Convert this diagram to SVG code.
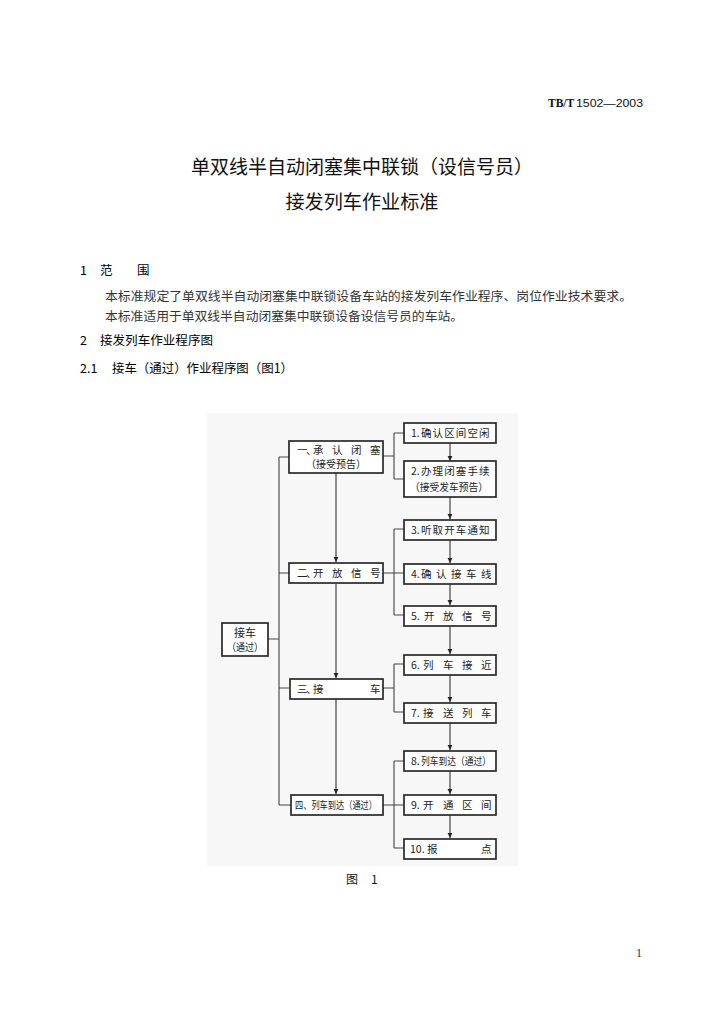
<svg xmlns="http://www.w3.org/2000/svg" width="724" height="1024" viewBox="0 0 724 1024">
<style>
.cjk{font-family:"Noto Sans CJK SC","Noto Sans CJK JP",sans-serif;}
.title{font-size:19px;fill:#111;}
.body{font-size:12.5px;fill:#333;}
.head{font-size:12.5px;fill:#000;}
.bt{font-size:10.5px;fill:#222;}
.box{fill:#ffffff;stroke:#2a2a2a;stroke-width:1.7;}
.ln{fill:none;stroke:#444;stroke-width:1.1;}
.ar{fill:none;stroke:#333;stroke-width:1.1;marker-end:url(#ah);}
</style>
<defs>
<marker id="ah" markerWidth="6" markerHeight="6" refX="5" refY="3" orient="auto" markerUnits="userSpaceOnUse">
<path d="M0,0.6 L5,3 L0,5.4 Z" fill="#222"/>
</marker>
</defs>
<rect width="724" height="1024" fill="#ffffff"/>

<g id="header">
<text x="548" y="107" font-family="Liberation Serif,serif" font-weight="bold" font-size="11.5" fill="#111">TB/T</text>
<text x="576" y="107" font-family="Liberation Sans,sans-serif" font-size="11" fill="#111" textLength="67" lengthAdjust="spacingAndGlyphs">1502—2003</text>
</g>

<g id="title" class="cjk title">
<text x="362" y="174" text-anchor="middle" textLength="342" lengthAdjust="spacingAndGlyphs">单双线半自动闭塞集中联锁（设信号员）</text>
<text x="362" y="209" text-anchor="middle" textLength="153" lengthAdjust="spacingAndGlyphs">接发列车作业标准</text>
</g>

<g id="text" class="cjk">
<text x="80" y="275" class="head">1</text>
<text x="100" y="275" class="head">范</text>
<text x="137" y="275" class="head">围</text>
<text x="105" y="301" class="body" textLength="527" lengthAdjust="spacingAndGlyphs">本标准规定了单双线半自动闭塞集中联锁设备车站的接发列车作业程序、岗位作业技术要求。</text>
<text x="105" y="321" class="body" textLength="358" lengthAdjust="spacingAndGlyphs">本标准适用于单双线半自动闭塞集中联锁设备设信号员的车站。</text>
<text x="80" y="345" class="head">2</text>
<text x="100" y="345" class="head" textLength="113" lengthAdjust="spacingAndGlyphs">接发列车作业程序图</text>
<text x="80" y="373" class="head">2.1</text>
<text x="112" y="373" class="head" textLength="181" lengthAdjust="spacingAndGlyphs">接车（通过）作业程序图（图1）</text>
</g>

<rect x="207" y="413" width="311" height="453" fill="#f7f7f7"/>

<g id="connectors">
<path class="ln" d="M268,639 H279 M279,457 V805 M279,457 H289 M279,573 H289 M279,688 H289 M279,805 H291"/>
<path class="ln" d="M383,456 H394 M394,433 V479 M394,433 H404 M394,479 H404"/>
<path class="ln" d="M383,573 H404 M394,529 V615 M394,529 H404 M394,615 H404"/>
<path class="ln" d="M383,688 H394 M394,664 V712 M394,664 H404 M394,712 H404"/>
<path class="ln" d="M383,805 H404 M394,761 V848 M394,761 H404 M394,848 H404"/>
<path class="ar" d="M336,473 V562"/>
<path class="ar" d="M336,584 V678"/>
<path class="ar" d="M336,699 V794"/>
<path class="ar" d="M450,443 V461"/>
<path class="ar" d="M450,497 V519"/>
<path class="ar" d="M450,540 V563"/>
<path class="ar" d="M450,584 V605"/>
<path class="ar" d="M450,626 V654"/>
<path class="ar" d="M450,675 V702"/>
<path class="ar" d="M450,723 V750"/>
<path class="ar" d="M450,771 V794"/>
<path class="ar" d="M450,815 V838"/>
</g>

<g id="root" class="cjk bt">
<rect class="box" x="222" y="623" width="46" height="33"/>
<text x="245" y="637" text-anchor="middle" font-size="11">接车</text>
<text x="227" y="651" textLength="36" lengthAdjust="spacingAndGlyphs">（通过）</text>
</g>

<g id="s1" class="cjk bt">
<rect class="box" x="289" y="441" width="94" height="32"/>
<text x="297 306 313 332 351 370" y="454">一、承认闭塞</text>
<text x="306" y="468" textLength="60" lengthAdjust="spacingAndGlyphs">（接受预告）</text>
</g>
<g id="s2" class="cjk bt">
<rect class="box" x="289" y="563" width="94" height="20"/>
<text x="297 306 313 332 351 370" y="577">二、开放信号</text>
</g>
<g id="s3" class="cjk bt">
<rect class="box" x="290" y="679" width="93" height="20"/>
<text x="297 306 313" y="693">三、接</text>
<text x="370" y="693">车</text>
</g>
<g id="s4" class="cjk bt">
<rect class="box" x="291" y="795" width="92" height="20"/>
<text x="295" y="809" textLength="82" lengthAdjust="spacingAndGlyphs">四、列车到达（通过）</text>
</g>

<g id="n1" class="cjk bt">
<rect class="box" x="404" y="423" width="92" height="20"/>
<text x="411" y="437">1.<tspan x="421 432.6 444.2 455.8 467.4 479">确认区间空闲</tspan></text>
</g>
<g id="n2" class="cjk bt">
<rect class="box" x="404" y="461" width="92" height="36"/>
<text x="411" y="475">2.<tspan x="421 432.6 444.2 455.8 467.4 479">办理闭塞手续</tspan></text>
<text x="410" y="491" textLength="78" lengthAdjust="spacingAndGlyphs">（接受发车预告）</text>
</g>
<g id="n3" class="cjk bt">
<rect class="box" x="404" y="520" width="92" height="20"/>
<text x="411" y="534">3.<tspan x="421 432.6 444.2 455.8 467.4 479">听取开车通知</tspan></text>
</g>
<g id="n4" class="cjk bt">
<rect class="box" x="404" y="564" width="92" height="20"/>
<text x="411" y="578">4.<tspan x="421 436 451 466 481">确认接车线</tspan></text>
</g>
<g id="n5" class="cjk bt">
<rect class="box" x="404" y="606" width="92" height="20"/>
<text x="411" y="620">5.<tspan x="424 443 462 481">开放信号</tspan></text>
</g>
<g id="n6" class="cjk bt">
<rect class="box" x="404" y="655" width="92" height="20"/>
<text x="411" y="669">6.<tspan x="423 443 462 481">列车接近</tspan></text>
</g>
<g id="n7" class="cjk bt">
<rect class="box" x="404" y="703" width="92" height="20"/>
<text x="411" y="717">7.<tspan x="423 443 462 481">接送列车</tspan></text>
</g>
<g id="n8" class="cjk bt">
<rect class="box" x="404" y="751" width="92" height="20"/>
<text x="411" y="765">8.<tspan x="421" textLength="70" lengthAdjust="spacingAndGlyphs">列车到达（通过）</tspan></text>
</g>
<g id="n9" class="cjk bt">
<rect class="box" x="404" y="795" width="92" height="20"/>
<text x="411" y="809">9.<tspan x="423 443 462 481">开通区间</tspan></text>
</g>
<g id="n10" class="cjk bt">
<rect class="box" x="404" y="839" width="92" height="20"/>
<text x="410" y="853">10.<tspan x="427">报</tspan></text>
<text x="481" y="853">点</text>
</g>

<g id="caption" class="cjk">
<text x="346" y="884" font-size="12" fill="#111">图</text>
<text x="371" y="884" font-size="12" fill="#111">1</text>
<text x="636" y="957" font-size="12" fill="#333" font-family="Liberation Serif,serif">1</text>
</g>
</svg>
